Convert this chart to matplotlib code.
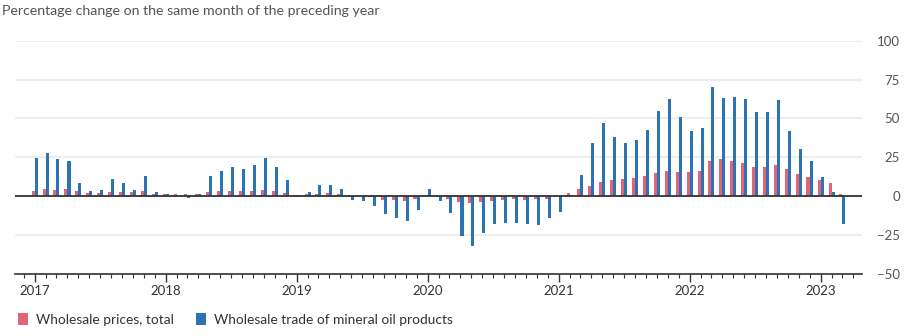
import pandas as pd
import matplotlib
matplotlib.use("Agg")
import matplotlib.pyplot as plt
import matplotlib.dates as mdates
from matplotlib.patches import Patch

plt.rcParams['font.family'] = ['Lato', 'DejaVu Sans']

months = pd.date_range('2017-01-01', '2023-03-01', freq='MS')

# wholesale prices, total (% change on same month of previous year)
prices_total = [
    3.4, 4.7, 4.1, 4.7, 3.0, 2.1, 2.1, 2.8, 2.8, 2.8, 3.4, 1.5,       # 2017
    1.5, 1.0, 1.0, 1.0, 2.8, 3.4, 3.4, 3.4, 3.4, 4.1, 3.4, 2.1,       # 2018
    0.8, 1.5, 1.5, 2.1, 1.5, 0.4, 0.0, -0.6, -2.4, -2.4, -3.0, -1.8,  # 2019
    0.4, -0.8, -1.9, -3.9, -4.5, -3.9, -3.2, -2.6, -1.9, -2.6, -1.9, -1.9,  # 2020
    0.3, 2.2, 4.3, 6.7, 9.3, 10.6, 11.2, 11.9, 13.2, 15.1, 16.4, 15.8,  # 2021
    15.8, 16.4, 22.3, 23.6, 22.9, 21.0, 19.0, 19.0, 19.7, 17.1, 14.5, 12.5,  # 2022
    10.6, 8.6, 1.5,                                                   # 2023
]

# wholesale trade of mineral oil products
mineral_oil = [
    24.2, 27.5, 23.6, 22.9, 8.6, 3.4, 4.1, 11.2, 8.6, 4.1, 13.1, 2.8,
    1.0, 0.3, -1.0, 1.5, 13.1, 16.4, 18.4, 17.7, 19.7, 24.2, 19.0, 10.6,
    0.4, 2.8, 7.3, 7.3, 4.7, -2.4, -3.0, -6.3, -11.5, -14.1, -16.0, -8.9,
    4.5, -3.2, -11.0, -26.0, -32.5, -24.0, -18.2, -17.5, -17.5, -18.2, -18.8, -14.3,
    -10.0, 0.9, 13.8, 34.0, 47.0, 37.8, 34.0, 35.9, 42.4, 54.7, 62.5, 50.8,
    41.7, 43.7, 70.3, 63.2, 63.8, 62.5, 54.0, 54.0, 61.8, 41.7, 30.0, 22.9,
    12.5, 2.8, -18.0,
]

yticks = [-50, -25, 0, 25, 50, 75, 100]
label_total = 'Wholesale prices, total'
label_oil = 'Wholesale trade of mineral oil products'

pink = '#e3647a'
blue = '#2c73b4'

fig = plt.figure(figsize=(9.22, 3.36), dpi=100)
ax = fig.add_axes([15/922, 0.186, (862-15)/922, 0.878-0.186])

off = pd.Timedelta(days=4.6)
ax.bar(months - off, prices_total, width=8.8, color=pink, zorder=3)
ax.bar(months + off, mineral_oil, width=8.8, color=blue, zorder=3)

ax.axhline(0, color='#333333', linewidth=1.3, zorder=4)

ax.set_ylim(-50, 100)
ax.set_yticks(yticks)
ax.set_xlim(pd.Timestamp('2016-11-06'), pd.Timestamp('2023-04-26'))

ax.grid(axis='y', color='#eeeeee', linewidth=1.5, zorder=0)
ax.grid(axis='x', visible=False)
for s in ['top', 'left', 'right']:
    ax.spines[s].set_visible(False)
ax.spines['bottom'].set_color('#333333')
ax.spines['bottom'].set_linewidth(1.2)

ax.yaxis.tick_right()
ax.tick_params(axis='y', length=0, pad=27.4, labelsize=9.5, labelcolor='#555555')
for t in ax.get_yticklabels():
    t.set_ha('right')

ax.xaxis.set_major_locator(mdates.YearLocator())
ax.xaxis.set_major_formatter(mdates.DateFormatter('%Y'))
ax.xaxis.set_minor_locator(mdates.MonthLocator())
ax.tick_params(axis='x', which='major', length=5.5, width=1, color='#333333',
               labelsize=9.5, labelcolor='#333333', pad=2.5)
ax.tick_params(axis='x', which='minor', length=3, width=0.8, color='#333333')

fig.text(0.002, 0.967, 'Percentage change on the same month of the preceding year',
         fontsize=10.2, color='#555555', va='center', ha='left')

handles = [Patch(facecolor=pink, label=label_total),
           Patch(facecolor=blue, label=label_oil)]
fig.legend(handles=handles, loc='center left', bbox_to_anchor=(18/922, 0.049),
           ncol=2, frameon=False, fontsize=9.9, handlelength=0.72, handleheight=0.94,
           handletextpad=0.58, columnspacing=1.6, borderpad=0, borderaxespad=0,
           labelcolor='#333333')

fig.savefig('out.png', dpi=100)
